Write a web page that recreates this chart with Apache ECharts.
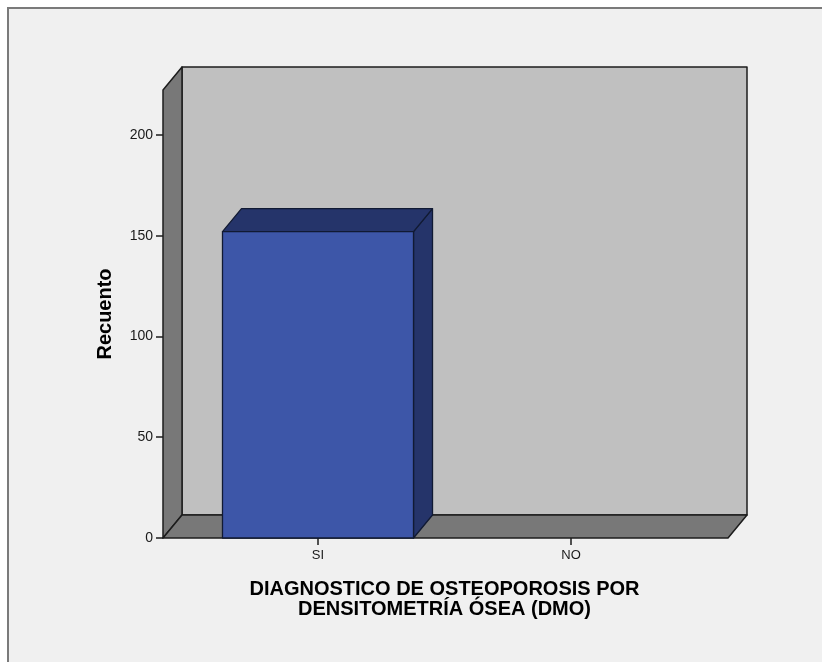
<!DOCTYPE html>
<html>
<head>
<meta charset="utf-8">
<script src="https://cdn.jsdelivr.net/npm/echarts@6/dist/echarts.min.js"></script>
<style>
  html, body { margin: 0; padding: 0; background: #ffffff; }
  #chart { width: 822px; height: 662px; }
</style>
</head>
<body>
<div id="chart"></div>
<script>
// Recuento por diagnóstico (DMO)
const categories = ['SI', 'NO'];
const counts = [152, 0];
const yTicks = [0, 50, 100, 150, 200];
const yMax = 222.3;

const FONT = '"Liberation Sans", Arial, sans-serif';
// depth of the 3D box / bars, in pixels
const DX = 19, DY = 23;

const chart = echarts.init(document.getElementById('chart'), null, { renderer: 'canvas' });

function wallsItem(params, api) {
  const a = api.coord([0, 0]);       // front-left-bottom
  const b = api.coord([1, yMax]);    // front-right-top
  const x0 = a[0], y0 = a[1], x1 = b[0], y1 = b[1];
  const edge = { stroke: '#1c1c1c', lineWidth: 1.5, lineJoin: 'round' };
  return {
    type: 'group',
    children: [
      { type: 'polygon', shape: { points: [[x0 + DX, y1 - DY], [x1 + DX, y1 - DY], [x1 + DX, y0 - DY], [x0 + DX, y0 - DY]] },
        style: Object.assign({ fill: '#c0c0c0' }, edge) },
      { type: 'polygon', shape: { points: [[x0, y0], [x0, y1], [x0 + DX, y1 - DY], [x0 + DX, y0 - DY]] },
        style: Object.assign({ fill: '#787878' }, edge) },
      { type: 'polygon', shape: { points: [[x0, y0], [x0 + DX, y0 - DY], [x1 + DX, y0 - DY], [x1, y0]] },
        style: Object.assign({ fill: '#787878' }, edge) }
    ]
  };
}

function barItem(params, api) {
  const v = api.value(1);
  if (!v) return null;
  const top = api.coord([api.value(0), v]);
  const base = api.coord([api.value(0), 0]);
  const w = api.size([1, 0])[0] * 0.755;
  const xa = top[0] - w / 2, xb = top[0] + w / 2;
  const yt = top[1], yb = base[1];
  const edge = { stroke: '#111a33', lineWidth: 1.3, lineJoin: 'round' };
  return {
    type: 'group',
    children: [
      { type: 'polygon', shape: { points: [[xb, yt], [xb + DX, yt - DY], [xb + DX, yb - DY], [xb, yb]] },
        style: Object.assign({ fill: '#25346a' }, edge) },
      { type: 'polygon', shape: { points: [[xa, yt], [xa + DX, yt - DY], [xb + DX, yt - DY], [xb, yt]] },
        style: Object.assign({ fill: '#25346a' }, edge) },
      { type: 'rect', shape: { x: xa, y: yt, width: w, height: yb - yt },
        style: Object.assign({ fill: '#3d56a8' }, edge) }
    ]
  };
}

chart.setOption({
  backgroundColor: '#ffffff',
  animation: false,
  graphic: [{
    type: 'rect', silent: true, z: -10,
    shape: { x: 8, y: 8, width: 900, height: 900 },
    style: { fill: '#f0f0f0', stroke: '#7a7a7a', lineWidth: 2 }
  }],
  grid: [
    { left: 163, top: 90, width: 565, height: 448 },
    { left: 191.5, top: 90, width: 506, height: 448 }
  ],
  xAxis: [
    { type: 'value', gridIndex: 0, min: 0, max: 1, show: false },
    {
      type: 'category', gridIndex: 1, data: categories,
      axisLine: { show: false },
      axisTick: { show: true, alignWithLabel: true, length: 7, lineStyle: { color: '#1c1c1c', width: 1.5 } },
      axisLabel: { fontSize: 13, color: '#1a1a1a', fontFamily: FONT, margin: 11 },
      name: 'DIAGNOSTICO DE OSTEOPOROSIS POR\nDENSITOMETRÍA ÓSEA (DMO)',
      nameLocation: 'middle', nameGap: 41,
      nameTextStyle: { fontSize: 20, fontWeight: 'bold', color: '#000', fontFamily: FONT, lineHeight: 20, align: 'center' }
    }
  ],
  yAxis: [
    {
      type: 'value', gridIndex: 0, min: 0, max: yMax,
      splitLine: { show: false },
      axisLine: { show: false },
      axisTick: { show: true, customValues: yTicks, length: 7, lineStyle: { color: '#1c1c1c', width: 1.5 } },
      axisLabel: { customValues: yTicks, fontSize: 14, color: '#1a1a1a', fontFamily: FONT, margin: 10 },
      name: 'Recuento', nameLocation: 'middle', nameGap: 48,
      nameTextStyle: { fontSize: 20, fontWeight: 'bold', color: '#000', fontFamily: FONT }
    },
    { type: 'value', gridIndex: 1, min: 0, max: yMax, show: false }
  ],
  series: [
    { type: 'custom', xAxisIndex: 0, yAxisIndex: 0, renderItem: wallsItem, data: [[0]], z: 1, silent: true, clip: false },
    { type: 'custom', xAxisIndex: 1, yAxisIndex: 1, renderItem: barItem,
      data: categories.map((c, i) => [i, counts[i]]), z: 5, clip: false }
  ]
});
</script>
</body>
</html>
